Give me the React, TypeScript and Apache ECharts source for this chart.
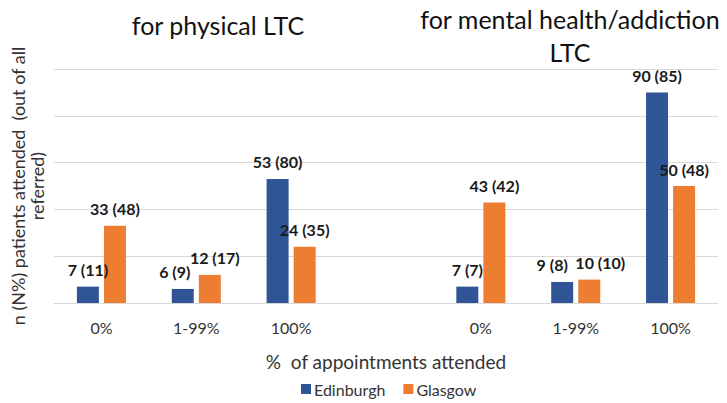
import React, { useEffect, useRef } from "react";
import * as echarts from "echarts";

const panelCategories = ["0%", "1-99%", "100%"];
const physicalEdinburgh = [7, 6, 53];
const physicalEdinburghPct = [11, 9, 80];
const physicalGlasgow = [33, 12, 24];
const physicalGlasgowPct = [48, 17, 35];
const mentalEdinburgh = [7, 9, 90];
const mentalEdinburghPct = [7, 8, 85];
const mentalGlasgow = [43, 10, 50];
const mentalGlasgowPct = [42, 10, 48];
const yTicks = { min: 0, max: 100, interval: 20 };

// label nudges (Excel's collision avoidance), keyed by combined index
const edinburghLabelOffsets: Record<number, number[]> = { 1: [-8, 0], 5: [-10, 0] };
const glasgowLabelOffsets: Record<number, number[]> = { 1: [5, 0], 5: [11, 0] };

const FONT = "Lato, 'Open Sans', sans-serif";
const BLUE = "#2F5597";
const ORANGE = "#ED7D31";

export default function App() {
  const ref = useRef<HTMLDivElement>(null);
  useEffect(() => {
    if (!ref.current) return;
    const chart = echarts.init(ref.current, undefined, { renderer: "svg" });
    const categories = [...panelCategories, "", ...panelCategories];
    const ed = [...physicalEdinburgh, null, ...mentalEdinburgh];
    const edPct = [...physicalEdinburghPct, null, ...mentalEdinburghPct];
    const gl = [...physicalGlasgow, null, ...mentalGlasgow];
    const glPct = [...physicalGlasgowPct, null, ...mentalGlasgowPct];

    const mk = (vals: (number | null)[], pcts: (number | null)[], offs: Record<number, number[]>) =>
      vals.map((v, i) => ({
        value: v,
        label: { formatter: v == null ? "" : `${v} (${pcts[i]})`, offset: offs[i] || [0, 0] },
      }));

    const labelStyle = {
      show: true,
      position: "top",
      distance: 9,
      fontFamily: FONT,
      fontWeight: "bold",
      fontSize: 16,
      color: "#1a1a1a",
    };

    const titleStyle = (text: string) => ({
      text,
      font: `25px ${FONT}`,
      fill: "#111",
      align: "center",
      verticalAlign: "middle",
      textAlign: "center",
      textVerticalAlign: "middle",
    });

    chart.setOption({
      animation: false,
      backgroundColor: "#ffffff",
      grid: { left: 50, right: 9, top: 69, bottom: 100 },
      graphic: [
        { type: "text", x: 218, y: 25, style: titleStyle("for physical LTC") },
        { type: "text", x: 570, y: 19, style: titleStyle("for mental health/addiction") },
        { type: "text", x: 570, y: 52, style: titleStyle("LTC") },
      ],
      legend: {
        left: 296,
        top: 376,
        icon: "rect",
        itemWidth: 10,
        itemHeight: 10,
        itemGap: 18,
        textStyle: { fontFamily: FONT, fontSize: 16, color: "#333", padding: [0, 0, 0, -2] },
        data: ["Edinburgh", "Glasgow"],
      },
      xAxis: {
        type: "category",
        data: categories,
        axisLine: { show: true, lineStyle: { color: "#d9d9d9", width: 1 } },
        axisTick: { show: false },
        axisLabel: { margin: 16, fontFamily: FONT, fontSize: 16, color: "#333", interval: 0 },
        name: "%  of appointments attended",
        nameLocation: "middle",
        nameGap: 49,
        nameTextStyle: { fontFamily: FONT, fontSize: 19, color: "#333" },
      },
      yAxis: {
        type: "value",
        min: yTicks.min,
        max: yTicks.max,
        interval: yTicks.interval,
        axisLabel: { show: false },
        axisLine: { show: false },
        axisTick: { show: false },
        splitLine: { lineStyle: { color: "#d9d9d9", width: 1 } },
        name: "n (N%) patients attended  (out of all\nreferred)",
        nameLocation: "middle",
        nameRotate: 90,
        nameGap: 8,
        nameTextStyle: { fontFamily: FONT, fontSize: 18, lineHeight: 19, color: "#333" },
      },
      series: [
        {
          name: "Edinburgh",
          type: "bar",
          barWidth: 22,
          barGap: "23%",
          itemStyle: { color: BLUE },
          label: labelStyle,
          data: mk(ed, edPct, edinburghLabelOffsets),
        },
        {
          name: "Glasgow",
          type: "bar",
          barWidth: 22,
          barGap: "23%",
          itemStyle: { color: ORANGE },
          label: labelStyle,
          data: mk(gl, glPct, glasgowLabelOffsets),
        },
      ],
    });
    return () => chart.dispose();
  }, []);
  return <div ref={ref} style={{ position: "fixed", left: 0, top: 0, width: 727, height: 403 }} />;
}
